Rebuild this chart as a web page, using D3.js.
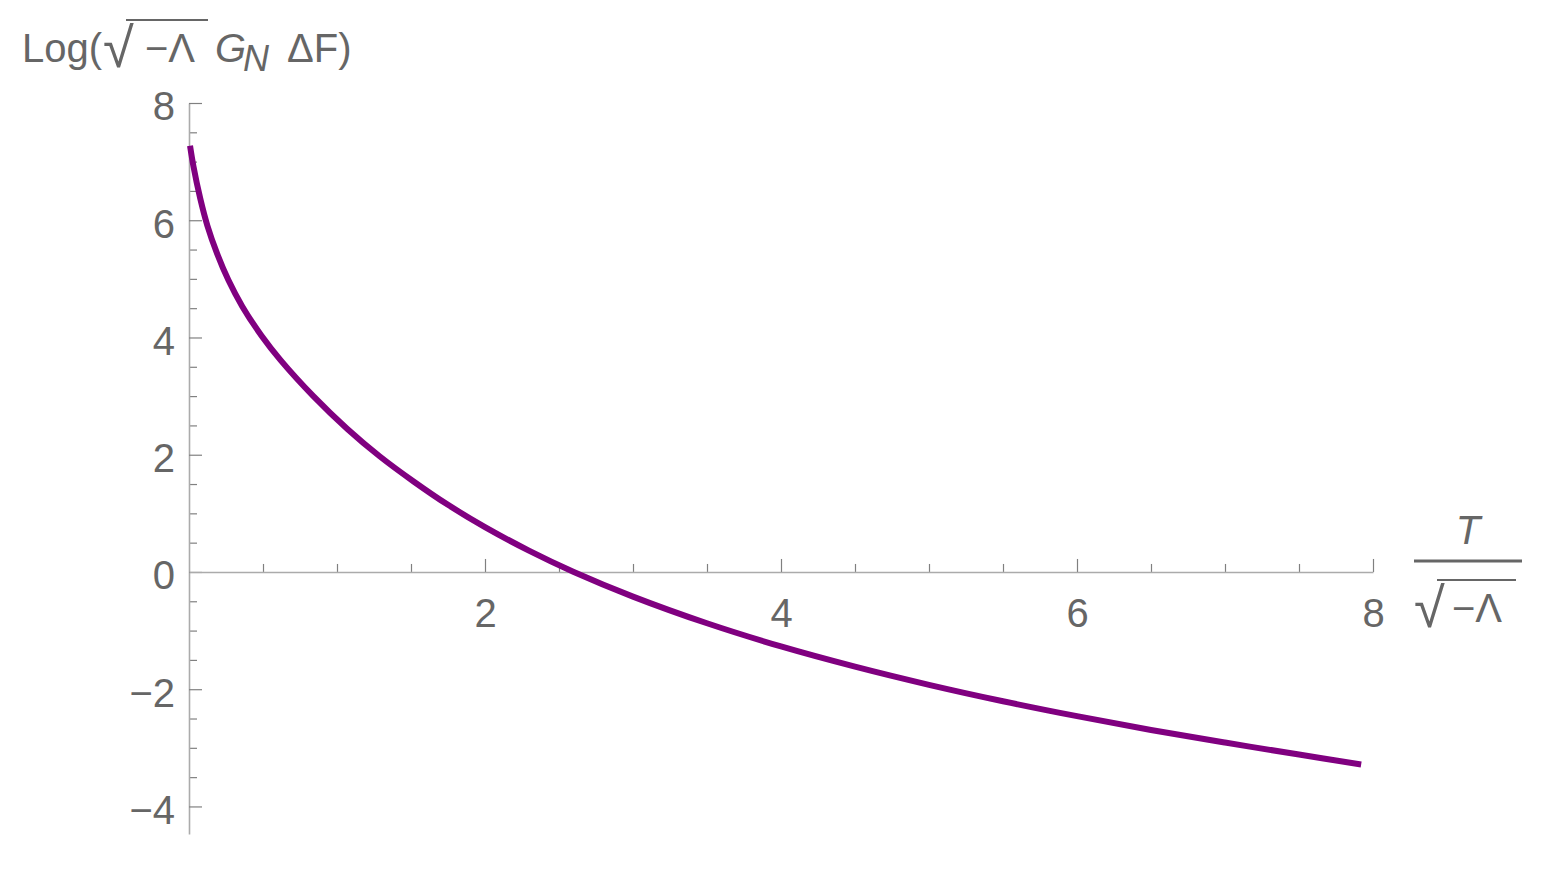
<!DOCTYPE html>
<html>
<head>
<meta charset="utf-8">
<script src="https://cdn.jsdelivr.net/npm/d3@7"></script>
<style>
  html, body { margin: 0; padding: 0; background: #ffffff; }
  svg { display: block; }
  text { font-family: "Liberation Sans", Arial, sans-serif; }
</style>
</head>
<body>
<svg id="chart" width="1552" height="876"></svg>
<script>
// ---- data ----
const tValues = [0.007, 0.03, 0.076, 0.124, 0.19, 0.266, 0.36, 0.49, 0.62, 0.84, 1.07, 1.29, 1.52, 1.75, 2.0, 2.3, 2.6, 3.0, 3.5, 4.0, 4.5, 5.0, 5.5, 6.0, 6.5, 7.0, 7.5, 7.92];
const logValues = [7.27, 6.92, 6.37, 5.91, 5.43, 4.98, 4.53, 4.03, 3.61, 3.00, 2.44, 1.97, 1.54, 1.145, 0.765, 0.36, 0.0, -0.42, -0.875, -1.27, -1.615, -1.925, -2.205, -2.46, -2.695, -2.91, -3.115, -3.285];
const xMajorTicks = [2, 4, 6, 8];
const xMinorTicks = [0.5, 1, 1.5, 2.5, 3, 3.5, 4.5, 5, 5.5, 6.5, 7, 7.5];
const yMajorTicks = [-4, -2, 0, 2, 4, 6, 8];
const yMinorTicks = [-3.5, -3, -2.5, -1.5, -1, -0.5, 0.5, 1, 1.5, 2.5, 3, 3.5, 4.5, 5, 5.5, 6.5, 7, 7.5];
const xDomain = [0, 8];
const yDomain = [-4.47, 8];

// ---- layout ----
const svg = d3.select("#chart");
const x = d3.scaleLinear().domain(xDomain).range([189, 1373]);
const y = d3.scaleLinear().domain(yDomain).range([834, 103]);

const axisColor = "#ababab";
const tickColor = "#808080";
const labelColor = "#666666";
const fontSize = 40;

const data = tValues.map((t, i) => ({ t, v: logValues[i] }));
const line = d3.line().x(d => x(d.t)).y(d => y(d.v)).curve(d3.curveCatmullRom.alpha(0.5));

// y axis (minor ticks)
svg.append("g").attr("transform", `translate(${x(0)},0)`)
  .call(d3.axisLeft(y).tickValues(yMinorTicks).tickSizeInner(-8).tickSizeOuter(0).tickFormat(""))
  .call(g => g.select(".domain").remove())
  .call(g => g.selectAll(".tick line").attr("stroke", tickColor).attr("stroke-width", 1.2));

// y axis (major)
svg.append("g").attr("transform", `translate(${x(0)},0)`)
  .call(d3.axisLeft(y).tickValues(yMajorTicks).tickSizeInner(-13).tickSizeOuter(0).tickPadding(14)
        .tickFormat(d => d < 0 ? "\u2212" + Math.abs(d) : String(d)))
  .call(g => g.select(".domain").attr("stroke", axisColor).attr("stroke-width", 1.6))
  .call(g => g.selectAll(".tick line").attr("stroke", tickColor).attr("stroke-width", 1.2))
  .call(g => g.selectAll(".tick text").attr("fill", labelColor).attr("font-size", fontSize)
        .attr("font-family", "Liberation Sans, Arial, sans-serif").attr("dy", "0.42em"));

// x axis (minor)
svg.append("g").attr("transform", `translate(0,${y(0)})`)
  .call(d3.axisBottom(x).tickValues(xMinorTicks).tickSizeInner(-8).tickSizeOuter(0).tickFormat(""))
  .call(g => g.select(".domain").remove())
  .call(g => g.selectAll(".tick line").attr("stroke", tickColor).attr("stroke-width", 1.2));

// x axis (major)
svg.append("g").attr("transform", `translate(0,${y(0)})`)
  .call(d3.axisBottom(x).tickValues(xMajorTicks).tickSizeInner(-13).tickSizeOuter(0).tickPadding(27))
  .call(g => g.select(".domain").attr("stroke", axisColor).attr("stroke-width", 1.6))
  .call(g => g.selectAll(".tick line").attr("stroke", tickColor).attr("stroke-width", 1.2))
  .call(g => g.selectAll(".tick text").attr("fill", labelColor).attr("font-size", fontSize)
        .attr("font-family", "Liberation Sans, Arial, sans-serif"));

// the curve
svg.append("path").datum(data)
  .attr("d", line)
  .attr("fill", "none")
  .attr("stroke", "#800080")
  .attr("stroke-width", 6)
  .attr("stroke-linecap", "butt")
  .attr("stroke-linejoin", "round");

// ---- y axis label: Log(√−Λ G_N ΔF) ----
const yl = svg.append("g").attr("fill", labelColor).attr("font-size", fontSize);
yl.append("text").attr("x", 22).attr("y", 62).text("Log(");
yl.append("text").attr("x", 103).attr("y", 67).attr("font-size", 56).text("\u221A");
yl.append("line").attr("x1", 126).attr("x2", 208).attr("y1", 20).attr("y2", 20)
  .attr("stroke", labelColor).attr("stroke-width", 2);
yl.append("text").attr("x", 145).attr("y", 62).text("\u2212\u039B");
yl.append("text").attr("x", 215).attr("y", 62).attr("font-style", "italic").text("G");
yl.append("text").attr("x", 243).attr("y", 71).attr("font-style", "italic").attr("font-size", 36).text("N");
yl.append("text").attr("x", 287).attr("y", 62).text("\u0394F)");

// ---- x axis label: T / √−Λ ----
const xl = svg.append("g").attr("fill", labelColor).attr("font-size", fontSize);
xl.append("text").attr("x", 1468).attr("y", 544).attr("text-anchor", "middle").attr("font-style", "italic").text("T");
xl.append("line").attr("x1", 1414).attr("x2", 1522).attr("y1", 561).attr("y2", 561)
  .attr("stroke", labelColor).attr("stroke-width", 3);
xl.append("text").attr("x", 1414).attr("y", 627).attr("font-size", 56).text("\u221A");
xl.append("line").attr("x1", 1437).attr("x2", 1516).attr("y1", 580).attr("y2", 580)
  .attr("stroke", labelColor).attr("stroke-width", 2);
xl.append("text").attr("x", 1452).attr("y", 622).text("\u2212\u039B");
</script>
</body>
</html>
